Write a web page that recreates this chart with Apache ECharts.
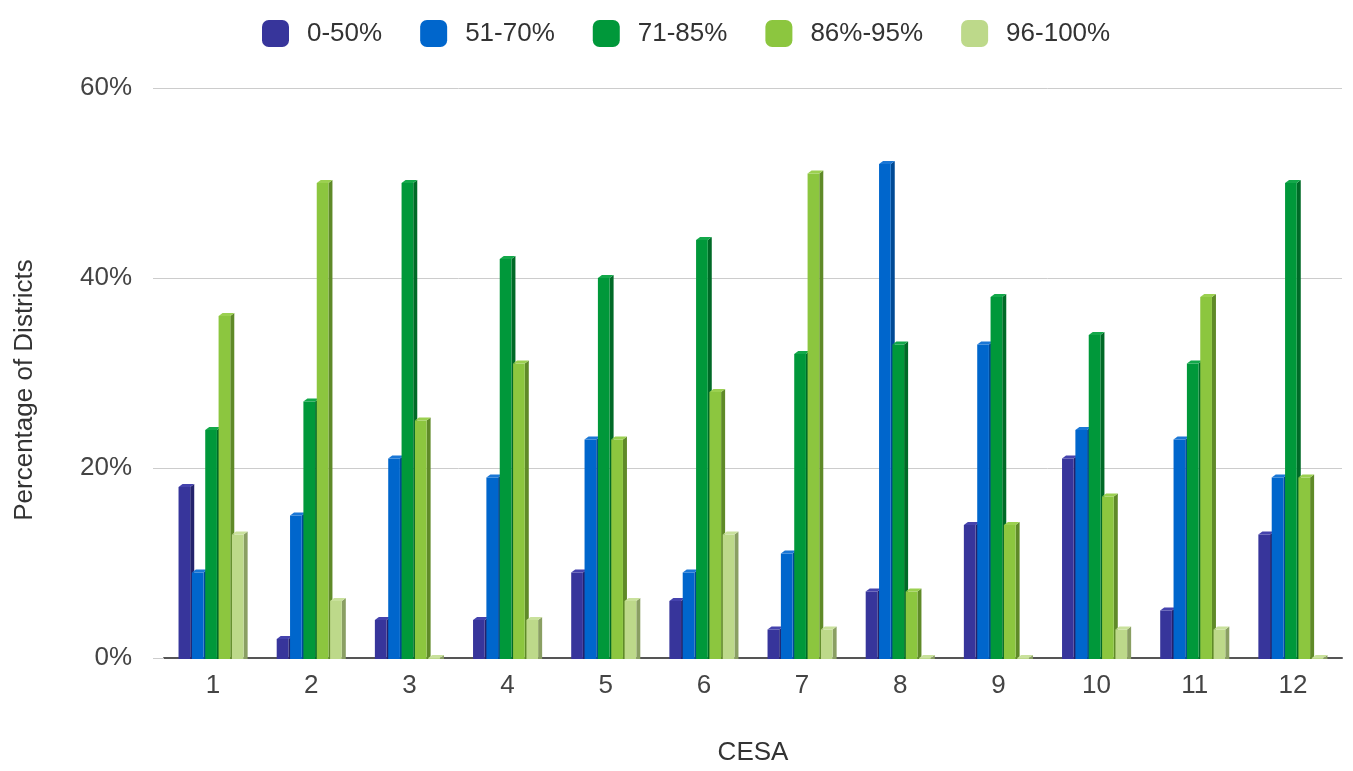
<!DOCTYPE html>
<html>
<head>
<meta charset="utf-8">
<title>Percentage of Districts by CESA</title>
<script src="https://cdn.jsdelivr.net/npm/echarts@6/dist/echarts.min.js"></script>
<style>
  html, body { margin: 0; padding: 0; background: #ffffff; }
  #chart { width: 1353px; height: 771px; }
</style>
</head>
<body>
<div id="chart"></div>
<script>
// CESA regions along the x axis
const cesaLabels = ['1', '2', '3', '4', '5', '6', '7', '8', '9', '10', '11', '12'];

// Share of districts (%) in each score band, one entry per CESA
const band0to50   = [18, 2, 4, 4, 9, 6, 3, 7, 14, 21, 5, 13];
const band51to70  = [9, 15, 21, 19, 23, 9, 11, 52, 33, 24, 23, 19];
const band71to85  = [24, 27, 50, 42, 40, 44, 32, 33, 38, 34, 31, 50];
const band86to95  = [36, 50, 25, 31, 23, 28, 51, 7, 14, 17, 38, 19];
const band96to100 = [13, 6, 0, 4, 6, 13, 3, 0, 0, 3, 3, 0];

const bandNames = ['0-50%', '51-70%', '71-85%', '86%-95%', '96-100%'];
const yTicks = [0, 20, 40, 60];

const bandValues = [band0to50, band51to70, band71to85, band86to95, band96to100];

// Face colours for the extruded bars: front, side, top
const palette = [
  { front: '#37359b', side: '#24226c', top: '#4543ad' },
  { front: '#0066cc', side: '#004a96', top: '#1a77d6' },
  { front: '#00983a', side: '#006a27', top: '#13a84a' },
  { front: '#8cc63f', side: '#5f8a28', top: '#9bd050' },
  { front: '#bdd98a', side: '#8a9f63', top: '#c9e19c' }
];

// Bar geometry (pixels)
const BAR_W = 11.7;   // front face width
const PITCH = 13.35;  // distance between neighbouring bars in a group
const DEPTH_X = 4;    // extrusion to the right
const DEPTH_Y = 3;    // extrusion upward
const GROUP_SPAN = 4 * PITCH + BAR_W + DEPTH_X;

const FONT = 'Arial, "Liberation Sans", sans-serif';

function makeRenderer(seriesIndex) {
  const c = palette[seriesIndex];
  return function (params, api) {
    const ci = api.value(0);
    const v = api.value(1);
    const base = api.coord([ci, 0]);
    const top = api.coord([ci, v]);
    const x = base[0] - GROUP_SPAN / 2 + seriesIndex * PITCH;
    const y0 = base[1] + 1;
    const y1 = top[1];
    return {
      type: 'group',
      children: [
        {
          type: 'polygon',
          shape: { points: [[x + BAR_W, y1], [x + BAR_W + DEPTH_X, y1 - DEPTH_Y], [x + BAR_W + DEPTH_X, y0], [x + BAR_W, y0]] },
          style: { fill: c.side }
        },
        {
          type: 'rect',
          shape: { x: x, y: y1, width: BAR_W, height: Math.max(0, y0 - y1) },
          style: { fill: c.front }
        },
        {
          type: 'polygon',
          shape: { points: [[x, y1], [x + DEPTH_X, y1 - DEPTH_Y], [x + BAR_W + DEPTH_X, y1 - DEPTH_Y], [x + BAR_W, y1]] },
          style: { fill: c.top }
        }
      ]
    };
  };
}

const chart = echarts.init(document.getElementById('chart'), null, { renderer: 'canvas' });

const series = bandNames.map(function (name, s) {
  return {
    name: name,
    type: 'custom',
    renderItem: makeRenderer(s),
    itemStyle: { color: palette[s].front },
    encode: { x: 0, y: 1 },
    data: bandValues[s].map(function (v, i) { return [i, v]; })
  };
});

chart.setOption({
  animation: false,
  backgroundColor: '#ffffff',
  textStyle: { fontFamily: FONT },
  legend: {
    top: 15,
    left: 257,
    icon: 'roundRect',
    itemWidth: 27,
    itemHeight: 27,
    itemGap: 38,
    textStyle: { fontFamily: FONT, fontSize: 26, color: '#333333', padding: [0, 0, 0, 13] },
    data: bandNames
  },
  grid: { left: 164, right: 11, top: 88, bottom: 109, containLabel: false },
  xAxis: {
    type: 'category',
    data: cesaLabels,
    name: 'CESA',
    nameLocation: 'middle',
    nameGap: 82,
    nameTextStyle: { fontFamily: FONT, fontSize: 26, color: '#333333' },
    axisLine: { lineStyle: { color: '#555555', width: 2 } },
    axisTick: { show: false },
    axisLabel: { fontFamily: FONT, fontSize: 26, color: '#444444', margin: 15 }
  },
  yAxis: {
    type: 'value',
    min: 0,
    max: 60,
    interval: 20,
    name: 'Percentage of Districts',
    nameLocation: 'middle',
    nameGap: 126,
    nameTextStyle: { fontFamily: FONT, fontSize: 26, color: '#333333', padding: [0, 34, 0, 0] },
    axisLine: { show: false },
    axisTick: { show: true, length: 11, lineStyle: { color: '#cccccc' } },
    splitLine: { lineStyle: { color: '#cccccc', width: 1 } },
    axisLabel: {
      fontFamily: FONT, fontSize: 26, color: '#444444', margin: 32,
      formatter: function (val) { return yTicks.indexOf(val) >= 0 ? val + '%' : ''; }
    }
  },
  series: series
});
</script>
</body>
</html>
